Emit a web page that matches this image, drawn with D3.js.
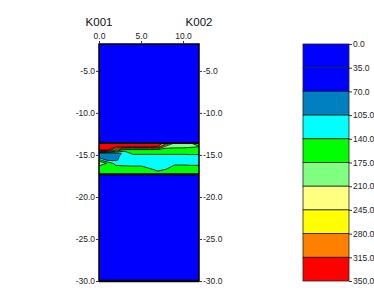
<!DOCTYPE html>
<html>
<head>
<meta charset="utf-8">
<script src="https://cdn.jsdelivr.net/npm/d3@7"></script>
<style>
  body { margin: 0; background: #fff; }
  text { font-family: "Liberation Sans", Arial, sans-serif; }
</style>
</head>
<body>
<div id="chart"></div>
<script>
// well section with filled contours and a class legend
const wells = ["K001", "K002"];
const wellX = [0, 11.9];
const xTicks = [0, 5, 10];
const yTicks = [-5, -10, -15, -20, -25, -30];
const legendBreaks = [0, 35, 70, 105, 140, 175, 210, 245, 280, 315, 350];
const legendColors = ["#0000ff", "#0000ff", "#0080c0", "#00ffff", "#00ff00",
                      "#80ff80", "#ffff80", "#ffff00", "#ff8000", "#ff0000"];

// sampled grid inside the layer (columns = distance, rows = depth)
const gridX = [0, 1, 2, 3, 4, 5, 6, 7, 8, 9, 10, 11, 12];
const gridY = [-13.6, -14.0, -14.4, -14.8, -15.2, -15.6, -16.0, -16.4, -16.8, -17.3];
const gridValues = [
  [330, 330, 330, 330, 330, 330, 330, 330, 300, 200, 180, 175, 170],
  [330, 330, 330, 330, 330, 330, 330, 320, 190, 185, 185, 180, 175],
  [330, 325, 230, 160, 160, 160, 160, 160, 160, 160, 160, 160, 160],
  [ 90,  90,  95, 110, 150, 150, 150, 150, 150, 150, 150, 150, 150],
  [ 85,  85,  95, 120, 120, 120, 120, 120, 120, 120, 120, 125, 125],
  [150,  95, 100, 120, 115, 115, 115, 115, 115, 115, 120, 120, 120],
  [215, 170, 125, 125, 120, 120, 120, 120, 125, 130, 130, 125, 125],
  [160, 155, 150, 145, 145, 145, 130, 120, 125, 150, 150, 150, 150],
  [155, 155, 155, 155, 155, 155, 150, 135, 145, 155, 155, 155, 155],
  [155, 155, 155, 155, 155, 155, 155, 155, 155, 155, 155, 155, 155]
];

const width = 374, height = 295;
const svg = d3.select("#chart").append("svg")
  .attr("width", width).attr("height", height);

const x = d3.scaleLinear().domain(wellX).range([99, 199]);
const y = d3.scaleLinear().domain([-1.8, -30]).range([44, 281]);

// plot background (lowest class)
svg.append("rect")
  .attr("x", x(wellX[0])).attr("y", y(-1.8))
  .attr("width", x(wellX[1]) - x(wellX[0])).attr("height", y(-30) - y(-1.8))
  .attr("fill", legendColors[0]);

// contour layer
const nx = gridX.length, ny = gridY.length;
const gx = d3.scaleLinear().domain(gridX.map((d, i) => i + 0.5)).range(gridX);
const gy = d3.scaleLinear().domain(gridY.map((d, i) => i + 0.5)).range(gridY);
const thresholds = legendBreaks.slice(1, -1);
const contours = d3.contours().size([nx, ny]).thresholds(thresholds)(gridValues.flat());
const proj = d3.geoTransform({
  point(u, v) { this.stream.point(x(gx(u)), y(gy(v))); }
});
const path = d3.geoPath(proj);

const layerTop = gridY[0], layerBot = gridY[gridY.length - 1];
svg.append("clipPath").attr("id", "band")
  .append("rect")
  .attr("x", x(wellX[0])).attr("y", y(layerTop))
  .attr("width", x(wellX[1]) - x(wellX[0])).attr("height", y(layerBot) - y(layerTop));

svg.append("g").attr("clip-path", "url(#band)")
  .selectAll("path").data(contours).join("path")
  .attr("d", path)
  .attr("fill", d => legendColors[legendBreaks.indexOf(d.value)])
  .attr("stroke", "#000")
  .attr("stroke-width", 0.8)
  .attr("stroke-linejoin", "round");

// layer boundaries
[layerTop, layerBot].forEach(v => {
  svg.append("line")
    .attr("x1", x(wellX[0])).attr("x2", x(wellX[1]))
    .attr("y1", y(v)).attr("y2", y(v))
    .attr("stroke", "#000").attr("stroke-width", 1.8);
});

// frame
svg.append("rect")
  .attr("x", x(wellX[0])).attr("y", y(-1.8))
  .attr("width", x(wellX[1]) - x(wellX[0])).attr("height", y(-30) - y(-1.8))
  .attr("fill", "none").attr("stroke", "#000").attr("stroke-width", 1.5);
svg.append("line")
  .attr("x1", x(wellX[0])).attr("x2", x(wellX[1]))
  .attr("y1", y(-30)).attr("y2", y(-30))
  .attr("stroke", "#000").attr("stroke-width", 2.5);

const fmt = d => d.toFixed(1);
const styleAxis = g => {
  g.select(".domain").remove();
  g.selectAll("line").attr("stroke", "#333");
  g.selectAll("text").attr("fill", "#222").attr("font-size", 8.5)
    .attr("font-family", "Liberation Sans, Arial, sans-serif");
};

svg.append("g").attr("transform", `translate(0,${y(-1.8)})`)
  .call(d3.axisTop(x).tickValues(xTicks).tickFormat(fmt).tickSize(3).tickPadding(2))
  .call(styleAxis);
svg.append("g").attr("transform", `translate(${x(wellX[0])},0)`)
  .call(d3.axisLeft(y).tickValues(yTicks).tickFormat(fmt).tickSize(3).tickPadding(1))
  .call(styleAxis);
svg.append("g").attr("transform", `translate(${x(wellX[1])},0)`)
  .call(d3.axisRight(y).tickValues(yTicks).tickFormat(fmt).tickSize(3).tickPadding(1))
  .call(styleAxis);

// well names
svg.selectAll("text.well").data(wells).join("text")
  .attr("class", "well")
  .attr("x", (d, i) => x(wellX[i]))
  .attr("y", 26)
  .attr("text-anchor", "middle")
  .attr("font-size", 11.5)
  .attr("fill", "#111")
  .text(d => d);

// legend
const ly = d3.scaleLinear().domain([0, 350]).range([44, 281]);
const lg = svg.append("g");
lg.selectAll("rect").data(legendColors).join("rect")
  .attr("x", 303).attr("width", 46)
  .attr("y", (d, i) => ly(legendBreaks[i]))
  .attr("height", (d, i) => ly(legendBreaks[i + 1]) - ly(legendBreaks[i]))
  .attr("fill", d => d)
  .attr("stroke", "#222").attr("stroke-width", 0.8);
svg.append("g").attr("transform", "translate(349,0)")
  .call(d3.axisRight(ly).tickValues(legendBreaks).tickFormat(fmt).tickSize(3).tickPadding(1))
  .call(styleAxis);
</script>
</body>
</html>
